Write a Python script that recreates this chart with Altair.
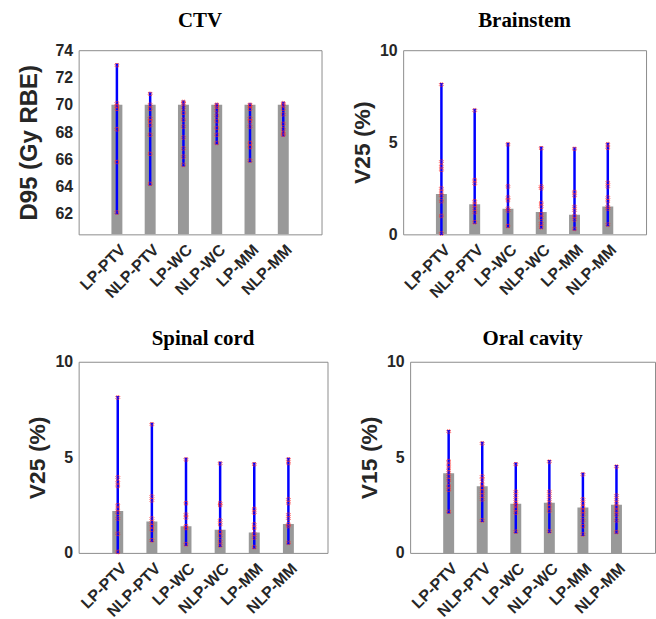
import altair as alt
import pandas as pd

cats = ["LP-PTV", "NLP-PTV", "LP-WC", "NLP-WC", "LP-MM", "NLP-MM"]

# CTV D95 (Gy RBE)
ctv_bar = [70.0, 70.0, 70.0, 70.0, 70.0, 70.0]
ctv_min = [62.1, 64.2, 65.6, 67.2, 65.9, 67.8]
ctv_max = [72.9, 70.8, 70.2, 70.0, 70.0, 70.1]
ctv_pts = [
    [72.9, 70.1, 69.9, 69.7, 68.2, 65.8, 62.1],
    [70.8, 70.0, 69.7, 69.0, 68.8, 68.5, 67.8, 66.4, 64.2],
    [70.2, 70.1, 69.8, 69.4, 68.9, 68.4, 67.6, 66.8, 66.2, 65.6],
    [70.0, 69.9, 69.6, 69.2, 68.8, 68.3, 67.8, 67.2],
    [70.0, 69.9, 69.7, 69.0, 68.8, 68.4, 67.2, 66.9, 65.9],
    [70.1, 70.0, 69.7, 69.3, 68.6, 68.2, 67.9, 67.8],
]

# Brainstem V25 (%)
bs_bar = [2.19, 1.64, 1.39, 1.21, 1.07, 1.51]
bs_min = [0.05, 0.66, 0.45, 0.39, 0.30, 0.53]
bs_max = [8.13, 6.73, 4.89, 4.68, 4.64, 4.89]
bs_pts = [
    [8.13, 3.95, 3.7, 3.5, 2.5, 2.3, 2.1, 1.8, 1.0, 0.05],
    [6.73, 2.95, 2.75, 1.8, 1.6, 1.4, 1.2, 0.66],
    [4.89, 2.6, 2.0, 1.85, 1.4, 1.3, 0.45],
    [4.68, 2.6, 2.5, 1.7, 1.5, 1.1, 0.9, 0.6, 0.39],
    [4.64, 2.3, 2.1, 1.5, 1.3, 1.0, 0.8, 0.30],
    [4.89, 4.7, 2.8, 2.6, 2.0, 1.8, 1.5, 1.4, 0.53],
]

# Spinal cord V25 (%)
sc_bar = [2.19, 1.64, 1.39, 1.21, 1.07, 1.51]
sc_min = [0.05, 0.66, 0.45, 0.39, 0.30, 0.53]
sc_max = [8.13, 6.73, 4.89, 4.68, 4.64, 4.89]
sc_pts = [
    [8.13, 3.95, 3.7, 3.5, 2.5, 2.3, 2.1, 1.8, 1.0, 0.05],
    [6.73, 2.95, 2.75, 1.8, 1.6, 1.4, 1.2, 0.66],
    [4.89, 2.6, 2.0, 1.85, 1.4, 1.3, 0.45],
    [4.68, 2.6, 2.5, 1.7, 1.5, 1.1, 0.9, 0.6, 0.39],
    [4.64, 2.3, 2.1, 1.5, 1.3, 1.0, 0.8, 0.30],
    [4.89, 4.7, 2.8, 2.6, 2.0, 1.8, 1.5, 1.4, 0.53],
]

# Oral cavity V15 (%)
oc_bar = [4.17, 3.49, 2.57, 2.62, 2.38, 2.52]
oc_min = [2.15, 1.70, 1.11, 1.13, 0.97, 1.09]
oc_max = [6.35, 5.73, 4.64, 4.77, 4.11, 4.51]
oc_pts = [
    [6.35, 4.8, 4.6, 4.4, 4.2, 4.0, 3.8, 3.5, 3.3, 2.15],
    [5.73, 4.0, 3.85, 3.6, 3.4, 3.2, 3.0, 2.8, 1.70],
    [4.64, 3.2, 3.0, 2.8, 2.6, 2.5, 2.3, 2.1, 1.11],
    [4.77, 3.2, 3.0, 2.8, 2.6, 2.4, 2.2, 1.13],
    [4.11, 2.8, 2.6, 2.4, 2.2, 2.0, 1.7, 1.4, 0.97],
    [4.51, 3.0, 2.8, 2.6, 2.4, 2.2, 2.0, 1.7, 1.09],
]

label_expr = "[''," + ",".join("'%s'" % c for c in cats) + ",''][datum.value]"

LABEL_COLOR = "#262626"


def panel(title, ytitle, bar, mn, mx, pts, domain, ticks, base, w, h,
          tpad, tsize, toff, left_extent=None):
    summ = pd.DataFrame({
        "pos": list(range(1, len(cats) + 1)),
        "cat": cats,
        "bar": bar,
        "mn": mn,
        "mx": mx,
    })
    rows = []
    for i, vals in enumerate(pts):
        for v in vals:
            rows.append({"pos": i + 1, "val": v})
    pdf = pd.DataFrame(rows)

    xaxis = alt.Axis(
        values=list(range(1, 7)),
        labelExpr=label_expr,
        labelAngle=-45,
        labelAlign="right",
        labelBaseline="top",
        labelOverlap=False,
        labelFontSize=16,
        labelFontWeight="bold",
        labelFont="Liberation Sans",
        labelColor=LABEL_COLOR,
        labelPadding=7,
        ticks=False,
        domain=False,
        grid=False,
        title=None,
    )
    xscale = alt.Scale(domain=[0, 7], nice=False)
    yscale = alt.Scale(domain=domain, nice=False, zero=False)
    yaxis = alt.Axis(
        values=ticks,
        tickCount=len(ticks),
        labelOverlap=False,
        labelFlush=False,
        labelFontSize=16,
        labelFontWeight="bold",
        labelFont="Liberation Sans",
        labelColor=LABEL_COLOR,
        labelPadding=6,
        ticks=False,
        domain=False,
        grid=False,
        title=ytitle,
        titleFont="Liberation Sans",
        titleFontSize=tsize,
        titleFontWeight="bold",
        titleColor=LABEL_COLOR,
        titlePadding=tpad,
    )

    def X():
        return alt.X("pos:Q", scale=xscale, axis=xaxis)

    def Y(f):
        return alt.Y(f, type="quantitative", scale=yscale, axis=yaxis)

    bars = alt.Chart(summ).mark_bar(size=11, color="#999999", clip=True).encode(
        x=X(),
        y=Y("bar"),
        y2=alt.Y2(datum=base),
    )
    rule = alt.Chart(summ).mark_rule(color="#0000ff", strokeWidth=2.5).encode(
        x=X(), y=Y("mn"), y2="mx:Q"
    )
    top_m = alt.Chart(summ).mark_point(
        shape="triangle-down", filled=True, color="#0000ff", size=14, opacity=1
    ).encode(x=X(), y=Y("mx"))
    bot_m = alt.Chart(summ).mark_point(
        shape="triangle-up", filled=True, color="#0000ff", size=14, opacity=1
    ).encode(x=X(), y=Y("mn"))
    stars = alt.Chart(pdf).mark_point(
        shape="cross", angle=45, filled=False, color="#ff3030", size=18,
        strokeWidth=0.8, opacity=0.8
    ).encode(x=X(), y=Y("val"))

    layers = [bars, rule, top_m, bot_m, stars]
    if left_extent is not None:
        # invisible anchor that reserves blank room left of the axis title
        layers.append(
            alt.Chart(summ.head(1)).mark_point(opacity=0, size=1).encode(
                x=alt.value(-left_extent), y=alt.value(0)
            )
        )

    return alt.layer(*layers).properties(
        width=w,
        height=h,
        title=alt.TitleParams(
            title,
            font="Liberation Serif",
            fontSize=21,
            fontWeight="bold",
            color="#000000",
            offset=toff,
        ),
    )


p1 = panel("CTV", "D95 (Gy RBE)", ctv_bar, ctv_min, ctv_max, ctv_pts,
           [60.5, 74], [62, 64, 66, 68, 70, 72, 74], 60.5, 244, 185, 14, 24, 11)
p2 = panel("Brainstem", "V25 (%)", bs_bar, bs_min, bs_max, bs_pts,
           [0, 10], [0, 5, 10], 0, 244, 185, 5, 23, 11)
p3 = panel("Spinal cord", "V25 (%)", sc_bar, sc_min, sc_max, sc_pts,
           [0, 10], [0, 5, 10], 0, 250, 192, 5, 23, 5, left_extent=55)
p4 = panel("Oral cavity", "V15 (%)", oc_bar, oc_min, oc_max, oc_pts,
           [0, 10], [0, 5, 10], 0, 246, 192, 5, 23, 5)

row1 = alt.hconcat(p1, p2, spacing=28)
row2 = alt.hconcat(p3, p4, spacing=29)
chart = alt.vconcat(row1, row2, spacing=25).properties(
    padding={"left": 16, "top": 8, "right": 0, "bottom": 0},
    background="white",
).configure_view(stroke="#8c8c8c", strokeWidth=1)

chart.save("out.html", embed_options={"renderer": "svg", "actions": False})
